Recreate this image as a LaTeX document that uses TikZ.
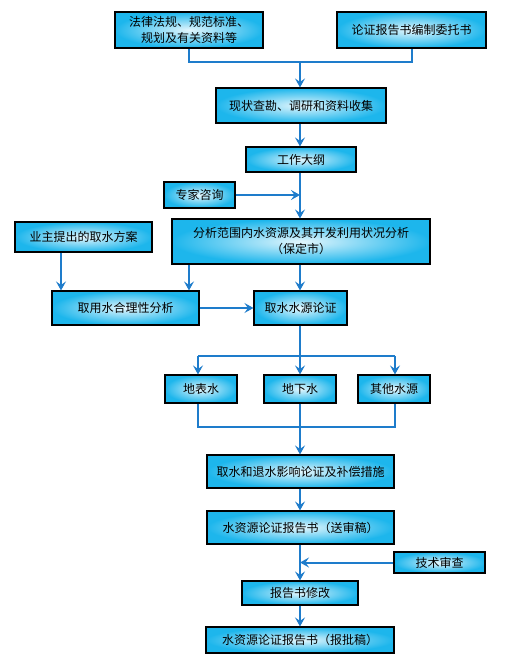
\documentclass[tikz,border=0pt]{standalone}
\usepackage{fontspec}
\setmainfont{Noto Sans CJK SC}
\usetikzlibrary{arrows.meta,calc}
\definecolor{boxcyan}{HTML}{1DB6EC}
\definecolor{arrowblue}{HTML}{1E7CCB}
\begin{document}
\begin{tikzpicture}[x=1pt,y=-1pt,
  box/.style={draw=black, line width=1.1pt, inner color=white!88!boxcyan, outer color=boxcyan,
    font=\fontsize{12}{16}\selectfont, align=center, inner sep=0pt},
  conn/.style={draw=arrowblue, line width=2pt},
  arr/.style={conn, -{Stealth[length=9pt,width=10pt,inset=3.5pt]}}]
\useasboundingbox (0,0) rectangle (521,668);
% nodes
\node[box, minimum width=148pt, minimum height=36pt] (A) at (189,30) {法律法规、规范标准、\\规划及有关资料等};
\node[box, minimum width=149pt, minimum height=36pt] (B) at (411.5,30) {论证报告书编制委托书};
\node[box, minimum width=170pt, minimum height=35pt] (C) at (301,105.5) {现状查勘、调研和资料收集};
\node[box, minimum width=110pt, minimum height=25pt] (D) at (301,159.5) {工作大纲};
\node[box, minimum width=71pt, minimum height=26pt] (E) at (199.5,195) {专家咨询};
\node[box, minimum width=258pt, minimum height=45pt] (F) at (301,241.5) {分析范围内水资源及其开发利用状况分析\\（保定市）};
\node[box, minimum width=137pt, minimum height=30pt] (G) at (83.5,237) {业主提出的取水方案};
\node[box, minimum width=147pt, minimum height=34pt] (H) at (125.5,308) {取用水合理性分析};
\node[box, minimum width=93pt, minimum height=34pt] (I) at (300.5,308) {取水水源论证};
\node[box, minimum width=72pt, minimum height=28pt] (J) at (201,389) {地表水};
\node[box, minimum width=72pt, minimum height=28pt] (K) at (300,389) {地下水};
\node[box, minimum width=72pt, minimum height=28pt] (L) at (394,389) {其他水源};
\node[box, minimum width=187pt, minimum height=33pt] (M) at (300.5,471.5) {取水和退水影响论证及补偿措施};
\node[box, minimum width=187pt, minimum height=33pt] (N) at (300.5,527.5) {水资源论证报告书（送审稿）};
\node[box, minimum width=91pt, minimum height=21pt] (O) at (439.5,562.5) {技术审查};
\node[box, minimum width=116pt, minimum height=24pt] (P) at (300,593) {报告书修改};
\node[box, minimum width=188pt, minimum height=26pt] (Q) at (300,640) {水资源论证报告书（报批稿）};
% helper coordinates
\coordinate (ax) at (300,0);
\coordinate (j1) at (300,62);
\coordinate (fx) at (189,0);
\coordinate (gx) at (61,0);
\coordinate (s) at (300,356);
\coordinate (sl) at (198,356);
\coordinate (sr) at (395,356);
\coordinate (jl) at (198,427);
\coordinate (jr) at (395,427);
\coordinate (jm) at (300,427);
% connectors
\draw[conn] (A.south) |- (j1) -| (B.south);
\draw[arr] (j1) -- (j1 |- C.north);
\draw[arr] (C.south -| ax) -- (D.north -| ax);
\draw[arr] (D.south -| ax) -- (F.north -| ax);
\draw[arr] (E.east) -- (E.east -| ax);
\draw[arr] (G.south -| gx) -- (H.north -| gx);
\draw[arr] (F.south -| fx) -- (H.north -| fx);
\draw[arr] (F.south -| ax) -- (I.north -| ax);
\draw[arr] (H.east) -- (I.west);
\draw[conn] (I.south -| ax) -- (s);
\draw[conn] (sl) -- (sr);
\draw[arr] (sl) -- (sl |- J.north);
\draw[arr] (s) -- (s |- K.north);
\draw[arr] (sr) -- (sr |- L.north);
\draw[conn] (J.south -| jl) -- (jl) -- (jr) -- (L.south -| jr);
\draw[conn] (K.south -| ax) -- (jm);
\draw[arr] (jm) -- (M.north -| ax);
\draw[arr] (M.south -| ax) -- (N.north -| ax);
\draw[arr] (N.south -| ax) -- (P.north -| ax);
\draw[arr] (O.west) -- (O.west -| ax);
\draw[arr] (P.south -| ax) -- (Q.north -| ax);
\end{tikzpicture}
\end{document}
